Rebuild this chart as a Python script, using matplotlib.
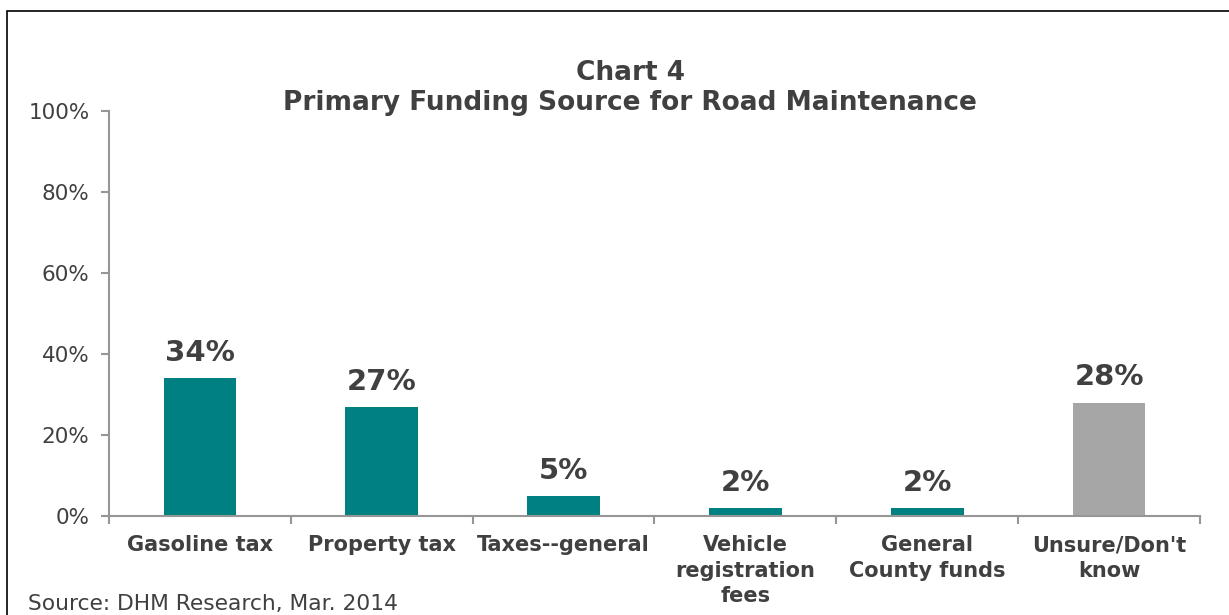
import matplotlib
matplotlib.use("Agg")
import matplotlib.pyplot as plt
from matplotlib.patches import Rectangle
import numpy as np

categories = ["Gasoline tax", "Property tax", "Taxes--general",
              "Vehicle\nregistration\nfees", "General\nCounty funds",
              "Unsure/Don't\nknow"]
values = [34, 27, 5, 2, 2, 28]
bar_colors = ["#008080", "#008080", "#008080", "#008080", "#008080", "#A6A6A6"]
yticks = [0, 20, 40, 60, 80, 100]
title = "Chart 4\nPrimary Funding Source for Road Maintenance"
source = "Source: DHM Research, Mar. 2014"

TEXT = "#404040"
AXIS = "#969696"

W, H = 1229, 615
fig = plt.figure(figsize=(W / 100, H / 100), dpi=100)
fig.patch.set_facecolor("white")

# outer frame of the chart area
fig.patches.append(Rectangle((7 / W, -0.5), 2.0, 1 - 11 / H + 0.5,
                             transform=fig.transFigure, fill=False,
                             edgecolor="black", linewidth=1.2))

ax = fig.add_axes([109 / W, 1 - 516 / H, (1200 - 109) / W, (516 - 111) / H])
x = np.arange(len(categories))
ax.bar(x, values, width=0.4, color=bar_colors, zorder=2)

for xi, v in zip(x, values):
    ax.annotate(f"{v}%", (xi, v), xytext=(0, 8), textcoords="offset points",
                ha="center", va="bottom", fontsize=21, fontweight="bold",
                color=TEXT)

ax.set_xlim(-0.5, len(categories) - 0.5)
ax.set_ylim(0, 100)
ax.set_yticks(yticks)
ax.set_yticklabels([f"{t}%" for t in yticks], fontsize=15.5, color=TEXT)

# category boundaries carry the tick marks, labels sit at centres
ax.set_xticks(np.arange(len(categories) + 1) - 0.5)
ax.set_xticklabels([])
ax.set_xticks(x, minor=True)
ax.set_xticklabels(categories, minor=True, fontsize=15, fontweight="bold",
                   color=TEXT, linespacing=1.33, va="top")
ax.tick_params(axis="x", which="minor", length=0, pad=14)
ax.tick_params(axis="x", which="major", length=6, color=AXIS, width=1.5)
ax.tick_params(axis="y", length=6, color=AXIS, width=1.5, pad=8)

for side in ["top", "right"]:
    ax.spines[side].set_visible(False)
for side in ["left", "bottom"]:
    ax.spines[side].set_color(AXIS)
    ax.spines[side].set_linewidth(1.5)

fig.text(630 / W, 1 - 88 / H, title, ha="center", va="center",
         fontsize=19, fontweight="bold", color=TEXT, linespacing=1.25)
fig.text(28 / W, 1 - 604 / H, source, ha="left", va="center",
         fontsize=15.7, color=TEXT)

fig.savefig("out.png", dpi=100, facecolor="white")
